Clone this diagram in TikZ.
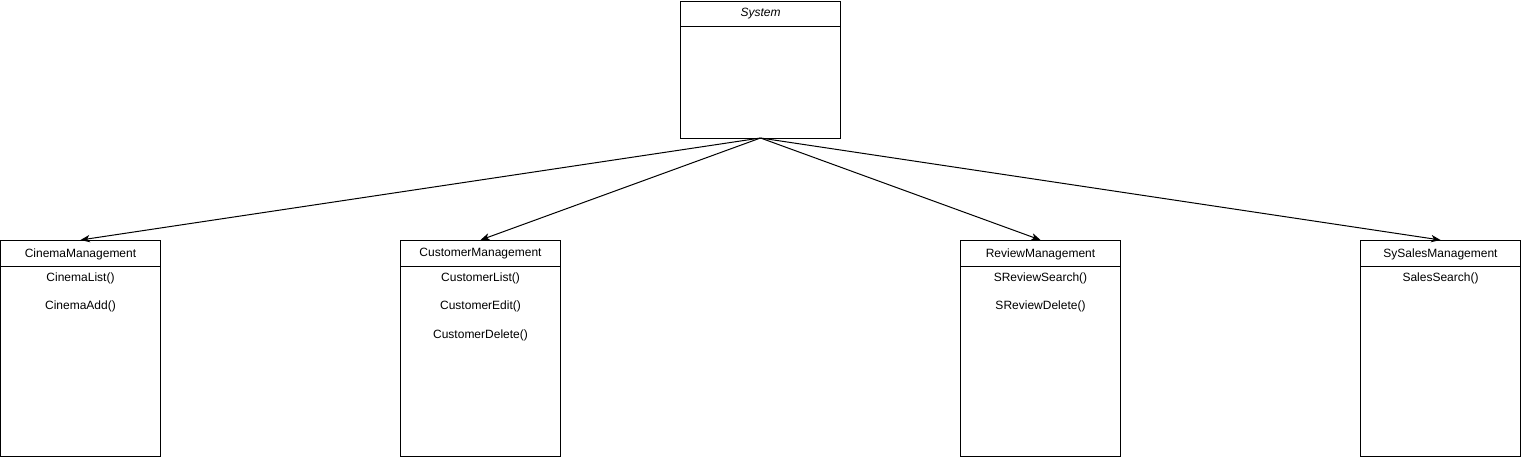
\documentclass[tikz,border=0pt]{standalone}
\usepackage{fontspec}
\setmainfont{Liberation Sans}
\usetikzlibrary{arrows.meta}
\begin{document}
\begin{tikzpicture}[x=0.75pt,y=-0.75pt,
  classbox/.style={draw,line width=0.75pt,minimum width=120pt,inner sep=0pt,outer sep=0pt},
  bigbox/.style={classbox,minimum height=162pt},
  lbl/.style={font=\fontsize{9pt}{11pt}\selectfont,inner sep=0pt},
  conn/.style={line width=0.75pt,-{Stealth[length=7pt,width=5.5pt,inset=2pt]}}]
\useasboundingbox (0,0) rectangle (1521,457);
% System
\node[classbox,minimum height=102.75pt] (sys) at (760.5,69.5) {};
\draw[line width=0.75pt] (sys.west |- 0,26) -- (sys.east |- 0,26);
\node[lbl,font=\fontsize{9pt}{11pt}\selectfont\itshape] (systxt) at (760.5,14) {System};
% bottom boxes
\foreach \nm/\cx/\title in {cin/80.5/CinemaManagement,cus/480.5/CustomerManagement,rev/1040.5/ReviewManagement,sal/1440.5/SySalesManagement}{
  \node[bigbox] (\nm) at (\cx,348) {};
  \draw[line width=0.75pt] (\nm.west |- 0,266.5) -- (\nm.east |- 0,266.5);
  \node[lbl] (\nm title) at (\cx,254) {\title};
}
\node[lbl] (m1) at (80.5,278) {CinemaList()};
\node[lbl] (m2) at (80.5,306) {CinemaAdd()};
\node[lbl] (m3) at (480.5,278) {CustomerList()};
\node[lbl] (m4) at (480.5,306) {CustomerEdit()};
\node[lbl] (m5) at (480.5,335) {CustomerDelete()};
\node[lbl] (m6) at (1040.5,278) {SReviewSearch()};
\node[lbl] (m7) at (1040.5,306) {SReviewDelete()};
\node[lbl] (m8) at (1440.5,278) {SalesSearch()};
% connectors
\foreach \nm in {cin,cus,rev,sal}{
  \draw[conn] (sys.south) -- (\nm.north);
}
\end{tikzpicture}
\end{document}
